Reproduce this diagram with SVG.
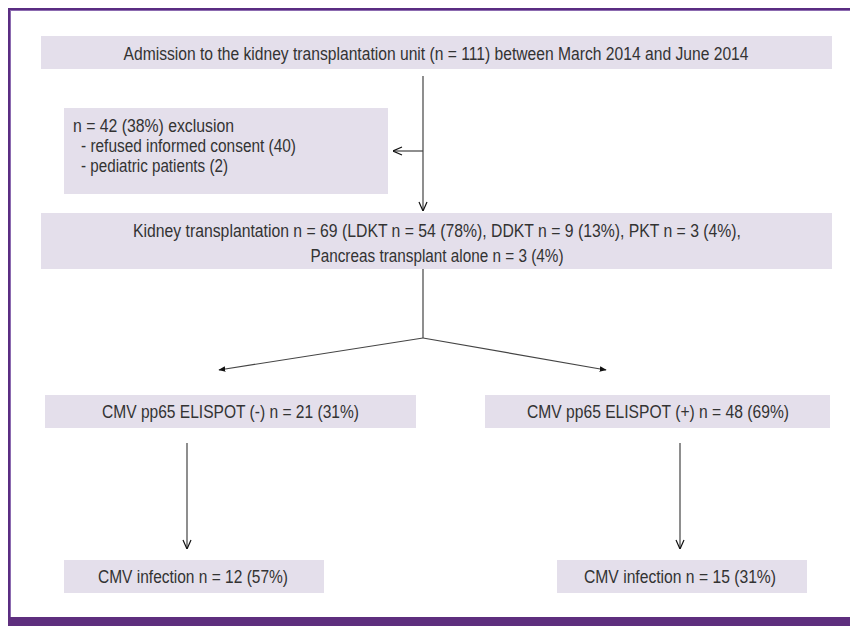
<svg xmlns="http://www.w3.org/2000/svg" width="850" height="626" viewBox="0 0 850 626">
<style>
.box{fill:#e4dfeb;}
.t{font-family:"Liberation Sans",Arial,sans-serif;font-size:17.5px;fill:#333;}
.c{text-anchor:middle;}
.ln{stroke:#444;stroke-width:1.2;fill:none;}
</style>
<defs>
<marker id="open" viewBox="0 0 10 10" refX="10" refY="5" markerWidth="10" markerHeight="10" markerUnits="userSpaceOnUse" orient="auto">
<path d="M1,1 L10,5 L1,9" fill="none" stroke="#111" stroke-width="1.2"/>
</marker>
<marker id="solid" viewBox="0 0 10 10" refX="9" refY="5" markerWidth="7" markerHeight="7" markerUnits="userSpaceOnUse" orient="auto">
<path d="M0,1 L10,5 L0,9 Z" fill="#111"/>
</marker>
</defs>
<rect width="850" height="626" fill="#fff"/>
<g id="frame">
<rect x="8" y="8" width="842" height="3" fill="#5a2d82"/>
<rect x="8" y="8" width="3" height="609" fill="#5a2d82"/>
<rect x="10" y="10" width="840" height="1" fill="#8c6bb0"/>
<rect x="10" y="10" width="1" height="607" fill="#8c6bb0"/>
<rect x="8" y="617" width="842" height="9" fill="#5e2f7e"/>
</g>
<g id="admission">
<rect class="box" x="41" y="36" width="791" height="33"/>
<text class="t c" x="436" y="60" textLength="625" lengthAdjust="spacingAndGlyphs">Admission to the kidney transplantation unit (n = 111) between March 2014 and June 2014</text>
</g>
<g id="exclusion">
<rect class="box" x="64" y="108" width="324" height="86"/>
<text class="t" x="73" y="132" textLength="161" lengthAdjust="spacingAndGlyphs">n = 42 (38%) exclusion</text>
<text class="t" x="81" y="152" textLength="215" lengthAdjust="spacingAndGlyphs">- refused informed consent (40)</text>
<text class="t" x="81" y="172" textLength="147" lengthAdjust="spacingAndGlyphs">- pediatric patients (2)</text>
</g>
<g id="kidney">
<rect class="box" x="41" y="213" width="791" height="56"/>
<text class="t c" x="437" y="237" textLength="608" lengthAdjust="spacingAndGlyphs">Kidney transplantation n = 69 (LDKT n = 54 (78%), DDKT n = 9 (13%), PKT n = 3 (4%),</text>
<text class="t c" x="437" y="262" textLength="253" lengthAdjust="spacingAndGlyphs">Pancreas transplant alone n = 3 (4%)</text>
</g>
<g id="elispot-neg">
<rect class="box" x="45" y="395" width="371" height="33"/>
<text class="t c" x="230.5" y="418" textLength="257" lengthAdjust="spacingAndGlyphs">CMV pp65 ELISPOT (-) n = 21 (31%)</text>
</g>
<g id="elispot-pos">
<rect class="box" x="485" y="395" width="345" height="33"/>
<text class="t c" x="658" y="418" textLength="262" lengthAdjust="spacingAndGlyphs">CMV pp65 ELISPOT (+) n = 48 (69%)</text>
</g>
<g id="cmv-neg">
<rect class="box" x="64" y="560" width="260" height="33"/>
<text class="t c" x="193" y="583" textLength="190" lengthAdjust="spacingAndGlyphs">CMV infection n = 12 (57%)</text>
</g>
<g id="cmv-pos">
<rect class="box" x="557" y="560" width="250" height="33"/>
<text class="t c" x="680" y="583" textLength="192" lengthAdjust="spacingAndGlyphs">CMV infection n = 15 (31%)</text>
</g>
<g id="connectors">
<line class="ln" x1="423" y1="76" x2="423" y2="211" marker-end="url(#open)"/>
<line class="ln" x1="423" y1="151" x2="393" y2="151" marker-end="url(#open)"/>
<line class="ln" x1="423" y1="269" x2="423" y2="338"/>
<line class="ln" x1="423" y1="338" x2="219" y2="370" marker-end="url(#solid)"/>
<line class="ln" x1="423" y1="338" x2="606" y2="370" marker-end="url(#solid)"/>
<line class="ln" x1="187" y1="443" x2="187" y2="549" marker-end="url(#open)"/>
<line class="ln" x1="680" y1="443" x2="680" y2="549" marker-end="url(#open)"/>
</g>
</svg>
